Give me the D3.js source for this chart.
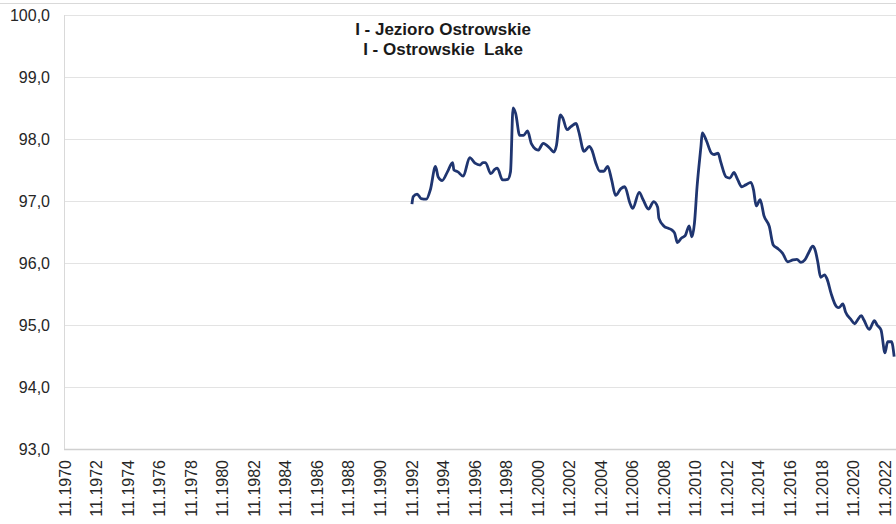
<!DOCTYPE html>
<meta charset="utf-8">
<style>
body { margin: 0; background: #fff; }
text { font-family: Arial, "Liberation Sans", sans-serif; fill: #262626; }
.title { font-weight: bold; font-size: 17px; fill: #1a1a1a; }
.tick { font-size: 16px; }
</style>
<svg width="896" height="524"></svg>
<script src="https://d3js.org/d3.v7.min.js"></script>
<script>

// month of reading
var months = ["1992-11","1992-12","1993-03","1993-06","1993-10","1994-01","1994-05","1994-07","1994-10",
  "1995-02","1995-06","1995-07","1995-10","1996-02","1996-07","1996-11","1997-03","1997-05","1997-07",
  "1997-11","1998-02","1998-04","1998-08","1998-12","1999-02","1999-04","1999-06","1999-09","1999-12",
  "2000-03","2000-06","2000-11","2001-03","2001-08","2001-11","2002-01","2002-04","2002-06","2002-09",
  "2002-12","2003-04","2003-06","2003-10","2004-02","2004-04","2004-07","2004-10","2005-01","2005-04",
  "2005-07","2005-10","2006-02","2006-05","2006-09","2006-11","2007-04","2007-07","2007-11","2008-03",
  "2008-06","2008-07","2008-11","2009-02","2009-05","2009-07","2009-09","2009-12","2010-03","2010-06",
  "2010-08","2010-10","2010-12","2011-03","2011-04","2011-07","2011-11","2012-01","2012-04","2012-06",
  "2012-10","2013-01","2013-04","2013-07","2013-10","2014-01","2014-05","2014-07","2014-09","2014-12",
  "2015-03","2015-07","2015-10","2016-01","2016-05","2016-09","2017-01","2017-04","2017-07","2017-10",
  "2018-01","2018-04","2018-06","2018-08","2018-10","2019-01","2019-03","2019-06","2019-10","2019-12",
  "2020-03","2020-05","2020-09","2020-12","2021-02","2021-05","2021-07","2021-11","2022-03","2022-05",
  "2022-08","2022-11","2023-01","2023-04","2023-06"];

// water level, m a.s.l.
var levels = [96.95,97.07,97.11,97.04,97.03,97.18,97.56,97.39,97.33,
  97.47,97.62,97.50,97.47,97.40,97.70,97.61,97.58,97.62,97.62,
  97.44,97.51,97.53,97.34,97.35,97.47,98.50,98.41,98.06,98.06,
  98.13,97.92,97.82,97.93,97.85,97.79,97.90,98.39,98.33,98.15,
  98.20,98.25,98.12,97.80,97.88,97.82,97.61,97.48,97.48,97.56,
  97.34,97.09,97.20,97.23,96.96,96.88,97.14,97.02,96.87,96.99,
  96.90,96.72,96.59,96.56,96.53,96.48,96.33,96.40,96.44,96.60,
  96.42,96.64,97.23,97.88,98.10,97.98,97.77,97.75,97.77,97.63,
  97.39,97.37,97.46,97.34,97.23,97.26,97.30,97.18,96.92,97.02,
  96.76,96.59,96.29,96.24,96.16,96.02,96.05,96.06,96.01,96.05,
  96.17,96.27,96.20,96.00,95.77,95.81,95.74,95.51,95.30,95.28,
  95.34,95.21,95.09,95.02,95.08,95.15,95.08,94.93,95.07,95.00,
  94.92,94.55,94.73,94.73,94.49];

var yTicks = [93, 94, 95, 96, 97, 98, 99, 100];
var xTickYears = d3.range(1970, 2023, 2);
var titleLines = ["I - Jezioro Ostrowskie", "I - Ostrowskie  Lake"];

var svg = d3.select("svg"),
    width = +svg.attr("width"),
    height = +svg.attr("height");

var parseMonth = d3.timeParse("%Y-%m");
var data = months.map(function(m, i) { return { date: parseMonth(m), value: levels[i] }; });

var x = d3.scaleTime()
    .domain([new Date(1970, 10, 1), new Date(2022, 10, 1)])
    .range([65, 885]);

var y = d3.scaleLinear()
    .domain([93, 100])
    .range([449, 15]);

// outer border line at the top
svg.append("line")
    .attr("x1", 0).attr("x2", width)
    .attr("y1", 3.5).attr("y2", 3.5)
    .attr("stroke", "#d9d9d9");

// gridlines
svg.append("g").selectAll("line")
  .data(yTicks)
  .enter().append("line")
    .attr("x1", 64).attr("x2", width)
    .attr("y1", function(d) { return Math.round(y(d)) + 0.5; })
    .attr("y2", function(d) { return Math.round(y(d)) + 0.5; })
    .attr("stroke", function(d) { return d === 93 ? "#d0d0d0" : "#e3e3e3"; })
    .attr("stroke-width", function(d) { return d === 93 ? 1.5 : 1; });

// left axis line
svg.append("line")
    .attr("x1", 64.5).attr("x2", 64.5)
    .attr("y1", y(100)).attr("y2", y(93))
    .attr("stroke", "#d9d9d9");

// y labels
svg.append("g").selectAll("text")
  .data(yTicks)
  .enter().append("text")
    .attr("class", "tick")
    .attr("x", 50)
    .attr("y", function(d) { return y(d); })
    .attr("dy", "0.35em")
    .attr("text-anchor", "end")
    .text(function(d) { return d3.format(".1f")(d).replace(".", ","); });

// x labels, rotated
svg.append("g").selectAll("text")
  .data(xTickYears)
  .enter().append("text")
    .attr("class", "tick")
    .attr("transform", function(d) {
      return "translate(" + x(new Date(d, 10, 1)) + ",460) rotate(-90)";
    })
    .attr("dy", "0.35em")
    .attr("text-anchor", "end")
    .text(function(d) { return "11." + d; });

// the line
var line = d3.line()
    .x(function(d) { return x(d.date); })
    .y(function(d) { return y(d.value); })
    .curve(d3.curveMonotoneX);

svg.append("path")
    .datum(data)
    .attr("fill", "none")
    .attr("stroke", "#1f3570")
    .attr("stroke-width", 2.8)
    .attr("stroke-linejoin", "round")
    .attr("d", line);

// title
svg.append("g").selectAll("text")
  .data(titleLines)
  .enter().append("text")
    .attr("class", "title")
    .attr("x", 443)
    .attr("y", function(d, i) { return 35 + i * 20; })
    .attr("text-anchor", "middle")
    .style("white-space", "pre")
    .text(function(d) { return d; });

</script>
